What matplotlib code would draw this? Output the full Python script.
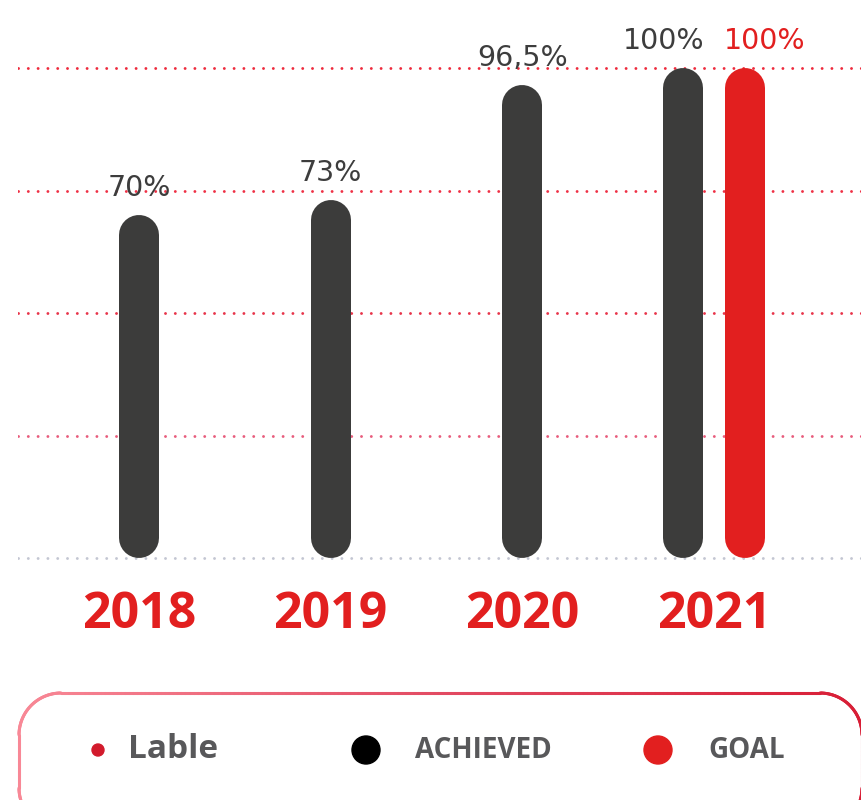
import numpy as np
import matplotlib
matplotlib.use("Agg")
import matplotlib.pyplot as plt
from matplotlib.collections import LineCollection
from matplotlib.patches import Circle
from matplotlib.colors import LinearSegmentedColormap

# ---- data ----
years = ["2018", "2019", "2020", "2021"]
achieved = [70, 73, 96.5, 100]
achieved_labels = ["70%", "73%", "96,5%", "100%"]
goal_year = "2021"
goal_value = 100
goal_label = "100%"
grid_values = [0, 25, 50, 75, 100]
legend_items = ["Lable", "ACHIEVED", "GOAL"]

DARK = "#3c3c3b"
RED = "#e21f1f"
TXT = "#3d3d3d"
LEG_TXT = "#58585a"

W, H = 861, 800
fig = plt.figure(figsize=(W / 100, H / 100), dpi=100)

# pixel geometry of the plotting area
px_per_unit = 4.9          # vertical px per percent
base_px = 558              # y pixel of value 0
x0_px, dx_px = 139, 191.7  # first category centre, spacing
ax_left_px = 18
ax_bottom_px = 660

ax = fig.add_axes([ax_left_px / W, (H - ax_bottom_px) / H, (W - ax_left_px) / W, ax_bottom_px / H])
ax.set_ylim(-(ax_bottom_px - base_px) / px_per_unit, base_px / px_per_unit)
ax.set_xlim((ax_left_px - x0_px) / dx_px, (W - x0_px) / dx_px)
ax.axis("off")

grid_colors = ["#c3c6d2", "#e85c7c", "#e8344a", "#ef3045", "#ee2a3c"]
for gv, gc in zip(grid_values, grid_colors):
    ax.axhline(gv, color=gc, lw=2.1, linestyle=(0, (0.01, 3.35)),
               dash_capstyle="round", zorder=1)

bar_w_px = 40
lw_pt = bar_w_px * 72 / 100
r = (bar_w_px / 2) / px_per_unit
off = 31 / dx_px
lab_dy = 14

def rbar(x, v, color):
    ax.plot([x, x], [r, v - r], color=color, lw=lw_pt, solid_capstyle="round", zorder=3)

xs = np.arange(len(years), dtype=float)
for i, (y, v, lab) in enumerate(zip(years, achieved, achieved_labels)):
    is_pair = (y == goal_year)
    x = xs[i] - off if is_pair else xs[i]
    rbar(x, v, DARK)
    ax.annotate(lab, (x, v), xytext=(-14 if is_pair else 0, lab_dy), textcoords="offset points",
                ha="center", va="baseline", fontsize=20.5, color=TXT,
                family="DejaVu Sans", zorder=4)
    ax.text(xs[i], -(628 - base_px) / px_per_unit, y, ha="center", va="baseline",
            fontsize=36, fontweight="bold", color=RED, family="Open Sans")

gi = years.index(goal_year)
gx = xs[gi] + off
rbar(gx, goal_value, RED)
ax.annotate(goal_label, (gx, goal_value), xytext=(14, lab_dy), textcoords="offset points",
            ha="center", va="baseline", fontsize=20.5, color=RED,
            family="DejaVu Sans", zorder=4)

# ---- legend box (pixel axes) ----
lax = fig.add_axes([0, 0, 1, 1])
lax.set_xlim(0, W)
lax.set_ylim(H, 0)
lax.axis("off")
lax.patch.set_alpha(0)

L, T, R, B, rad = 19, 693, 862, 830, 42
pts = []
def arc(cx, cy, a0, a1):
    t = np.linspace(np.radians(a0), np.radians(a1), 30)
    return np.column_stack([cx + rad * np.cos(t), cy + rad * np.sin(t)])
pts.append(arc(L + rad, B - rad, 90, 180))
pts.append(arc(L + rad, T + rad, 180, 270))
pts.append(arc(R - rad, T + rad, 270, 360))
pts.append(arc(R - rad, B - rad, 0, 90))
path = np.vstack(pts + [pts[0][:1]])
dense = []
for a, b in zip(path[:-1], path[1:]):
    n = max(2, int(np.hypot(*(b - a)) / 4))
    dense.append(np.linspace(a, b, n, endpoint=False))
dense = np.vstack(dense + [path[-1:]])
segs = np.stack([dense[:-1], dense[1:]], axis=1)
cmap = LinearSegmentedColormap.from_list("g", ["#f88896", "#e24a62", "#d81e36"])
lc = LineCollection(segs, cmap=cmap, linewidths=2.2, capstyle="round")
lc.set_array((segs[:, 0, 0] - L) / (R - L))
lc.set_clim(0, 1)
lax.add_collection(lc)

cy = 750
lax.add_patch(Circle((98, cy), 6, color="#d21a2c"))
lax.text(128, cy, legend_items[0], ha="left", va="center", fontsize=24,
         fontweight="bold", color=LEG_TXT, family="Open Sans")
lax.add_patch(Circle((366, cy), 14, color="#000000"))
lax.text(415, cy + 1, legend_items[1], ha="left", va="center", fontsize=20,
         fontweight="bold", color=LEG_TXT, family="Open Sans")
lax.add_patch(Circle((658, cy), 14, color=RED))
lax.text(708, cy + 1, legend_items[2], ha="left", va="center", fontsize=20,
         fontweight="bold", color=LEG_TXT, family="Open Sans")

fig.savefig("out.png", dpi=100)
